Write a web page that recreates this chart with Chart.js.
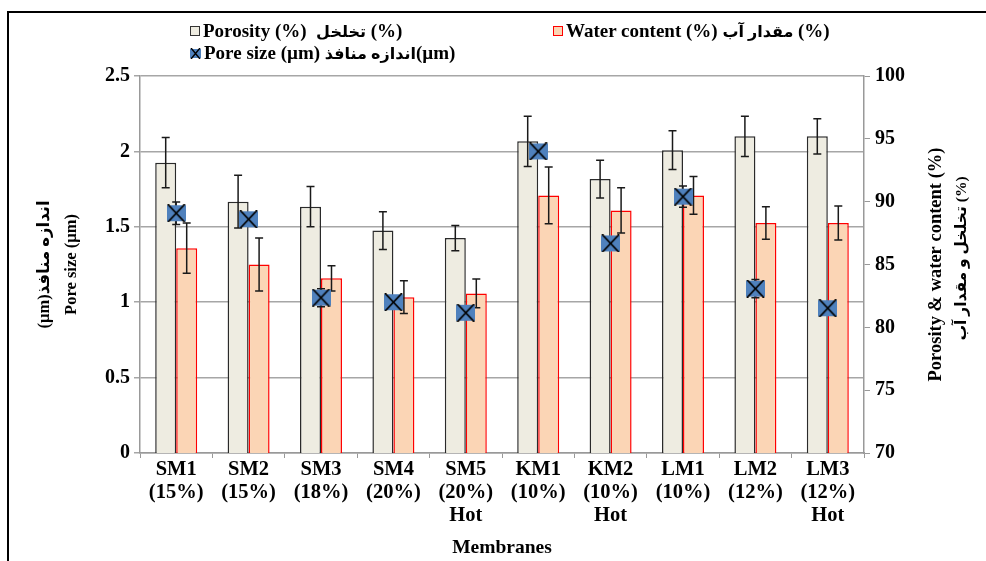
<!DOCTYPE html>
<html><head><meta charset="utf-8">
<script src="https://cdn.jsdelivr.net/npm/chart.js@4"></script>
<style>
html,body{margin:0;padding:0;background:#fff;}
#wrap{position:relative;width:986px;height:561px;overflow:hidden;background:#fff;}
#frame{position:absolute;left:7px;top:11px;width:1100px;height:700px;border-top:2px solid #000;border-left:2px solid #000;}
#c{position:absolute;left:0;top:0;}
.lg{position:absolute;font:bold 19px "Liberation Serif","DejaVu Sans",serif;white-space:nowrap;line-height:22px;color:#000;}
.fa{font-size:16px;}
.bx{display:inline-block;width:8px;height:8px;border:1px solid #333;margin-right:3px;vertical-align:1px;}
.mk{display:inline-block;width:11px;height:11px;margin-right:3px;vertical-align:0px;}
</style></head>
<body>
<div id="wrap">
  <div id="frame"></div>
  <canvas id="c" width="986" height="561"></canvas>
  <div class="lg" style="left:190px;top:20px;"><span class="bx" style="background:#EEECE1;border-color:#333;"></span>Porosity (%)&nbsp; <span class="fa">تخلخل</span> (%)</div>
  <div class="lg" style="left:553px;top:20px;"><span class="bx" style="background:#FBD5B5;border-color:#FF0000;"></span>Water content (%) <span class="fa">مقدار آب</span> (%)</div>
  <div class="lg" style="left:190px;top:42px;"><canvas class="mk" id="lgmk" width="11" height="11"></canvas>Pore size (µm) <span class="fa">اندازه منافذ</span>(µm)</div>
</div>
<script>
const categories = [['SM1','(15%)'],['SM2','(15%)'],['SM3','(18%)'],['SM4','(20%)'],['SM5','(20%)','Hot'],['KM1','(10%)'],['KM2','(10%)','Hot'],['LM1','(10%)'],['LM2','(12%)'],['LM3','(12%)','Hot']];
const porosity     = [93.1, 90.0, 89.6, 87.7, 87.1, 94.8, 91.8, 94.1, 95.2, 95.2];
const porosityErr  = [2.0, 2.1, 1.6, 1.5, 1.0, 2.0, 1.5, 1.55, 1.6, 1.4];
const waterContent = [86.3, 85.0, 83.9, 82.4, 82.7, 90.5, 89.3, 90.5, 88.3, 88.3];
const waterErr     = [2.0, 2.1, 1.0, 1.3, 1.15, 2.25, 1.8, 1.5, 1.3, 1.35];
const poreSize     = [1.59, 1.55, 1.03, 1.00, 0.93, 2.00, 1.39, 1.70, 1.09, 0.96];
const poreErr      = [0.075, 0, 0.06, 0, 0, 0, 0, 0.07, 0.06, 0];
const leftTicks  = ['0','0.5','1','1.5','2','2.5'];
const rightTicks = ['70','75','80','85','90','95','100'];

const SERIF = '"Liberation Serif","DejaVu Sans",serif';

function makeMarker(w, h, lw) {
  const m = document.createElement('canvas');
  m.width = w; m.height = h;
  const g = m.getContext('2d');
  g.fillStyle = '#4F81BD';
  g.fillRect(0, 1, w, h - 2);
  g.strokeStyle = '#000'; g.lineWidth = lw;
  g.beginPath();
  g.moveTo(1, 0); g.lineTo(w - 1, h);
  g.moveTo(w - 1, 0); g.lineTo(1, h);
  g.stroke();
  return m;
}
const marker = makeMarker(19, 18, 1.7);
(function(){
  const g = document.getElementById('lgmk').getContext('2d');
  g.drawImage(makeMarker(11, 11, 1.4), 0, 0);
})();

const errMap = {0: porosityErr, 1: waterErr, 2: poreErr};

function drawErr(chart, index) {
  const meta = chart.getDatasetMeta(index);
  const ds = chart.data.datasets[index];
  const errs = errMap[index];
  const scale = chart.scales[meta.yAxisID];
  const ctx = chart.ctx;
  ctx.save();
  ctx.strokeStyle = '#1a1a1a';
  ctx.lineWidth = 1.5;
  meta.data.forEach((el, i) => {
    const e = errs[i];
    if (!e) return;
    const v = ds.data[i];
    const x = el.x;
    const yt = scale.getPixelForValue(v + e);
    const yb = scale.getPixelForValue(v - e);
    ctx.beginPath();
    ctx.moveTo(x, yt); ctx.lineTo(x, yb);
    ctx.moveTo(x - 4, yt); ctx.lineTo(x + 4, yt);
    ctx.moveTo(x - 4, yb); ctx.lineTo(x + 4, yb);
    ctx.stroke();
  });
  ctx.restore();
}

const errorBars = {
  id: 'errorBars',
  afterDatasetDraw(chart, args) { if (args.index === 0 || args.index === 1) drawErr(chart, args.index); },
  beforeDatasetDraw(chart, args) { if (args.index === 2) drawErr(chart, 2); }
};

const rightTitle = {
  id: 'rightTitle',
  afterDraw(chart) {
    const ctx = chart.ctx;
    const ca = chart.chartArea;
    const cy = (ca.top + ca.bottom) / 2;
    ctx.save();
    ctx.fillStyle = '#000';
    ctx.textAlign = 'center';
    ctx.textBaseline = 'middle';
    ctx.translate(936, cy);
    ctx.rotate(-Math.PI / 2);
    ctx.font = 'bold 18.5px ' + SERIF;
    ctx.fillText('Porosity & water content (%)', 0, 0);
    ctx.font = 'bold 15.5px ' + SERIF;
    ctx.fillText('تخلخل و مقدار آب (%)', 6, 26);
    ctx.restore();
  }
};

new Chart(document.getElementById('c'), {
  data: {
    labels: categories,
    datasets: [
      { type: 'bar', label: 'Porosity (%)', data: porosity, yAxisID: 'y1',
        backgroundColor: '#EEECE1', borderColor: '#2a2a2a', borderWidth: 1.5, order: 1 },
      { type: 'bar', label: 'Water content (%)', data: waterContent, yAxisID: 'y1',
        backgroundColor: '#FBD5B5', borderColor: '#FF0000', borderWidth: 1.5, order: 2 },
      { type: 'line', label: 'Pore size (µm)', data: poreSize, yAxisID: 'y',
        showLine: false, pointStyle: marker, pointRadius: 9, pointHoverRadius: 9, order: 0 }
    ]
  },
  options: {
    responsive: false,
    animation: false,
    events: [],
    layout: { padding: { top: 76, left: 0, right: 0, bottom: 0 } },
    datasets: { bar: { categoryPercentage: 0.58, barPercentage: 1.0, borderSkipped: 'bottom' } },
    plugins: { legend: { display: false }, tooltip: { enabled: false } },
    scales: {
      x: {
        offset: true,
        grid: { display: true, drawOnChartArea: false, offset: true, tickLength: 5, color: '#999' },
        border: { color: '#999', width: 1.5 },
        ticks: { color: '#000', font: { family: SERIF, size: 20.5, weight: 'bold', lineHeight: '23px' }, padding: 0, maxRotation: 0, autoSkip: false },
        title: { display: true, text: 'Membranes', color: '#000', font: { family: SERIF, size: 19.5, weight: 'bold', lineHeight: '22px' }, padding: { top: 0, bottom: 2 } },
        afterFit(s) { s.height = 108; }
      },
      y: {
        position: 'left', min: 0, max: 2.5,
        ticks: { stepSize: 0.5, color: '#000', padding: 4, font: { family: SERIF, size: 20, weight: 'bold' },
                 callback: (v, i) => leftTicks[i] },
        grid: { color: '#A6A6A6', lineWidth: 1.5, tickLength: 6 },
        border: { color: '#999', width: 1.5 },
        title: { display: true, text: ['(µm)اندازه منافذ', 'Pore size (µm)'], color: '#000',
                 font: { family: SERIF, size: 16.5, weight: 'bold', lineHeight: '27px' }, padding: { top: 31, bottom: 0 } },
        afterFit(s) { s.width = 140; }
      },
      y1: {
        position: 'right', min: 70, max: 100,
        ticks: { stepSize: 5, color: '#000', padding: 5, font: { family: SERIF, size: 20, weight: 'bold' },
                 callback: (v, i) => rightTicks[i] },
        grid: { drawOnChartArea: false, color: '#999', tickLength: 6 },
        border: { color: '#999', width: 1.5 },
        afterFit(s) { s.width = 122; }
      }
    }
  },
  plugins: [errorBars, rightTitle]
});
</script>
</body></html>
